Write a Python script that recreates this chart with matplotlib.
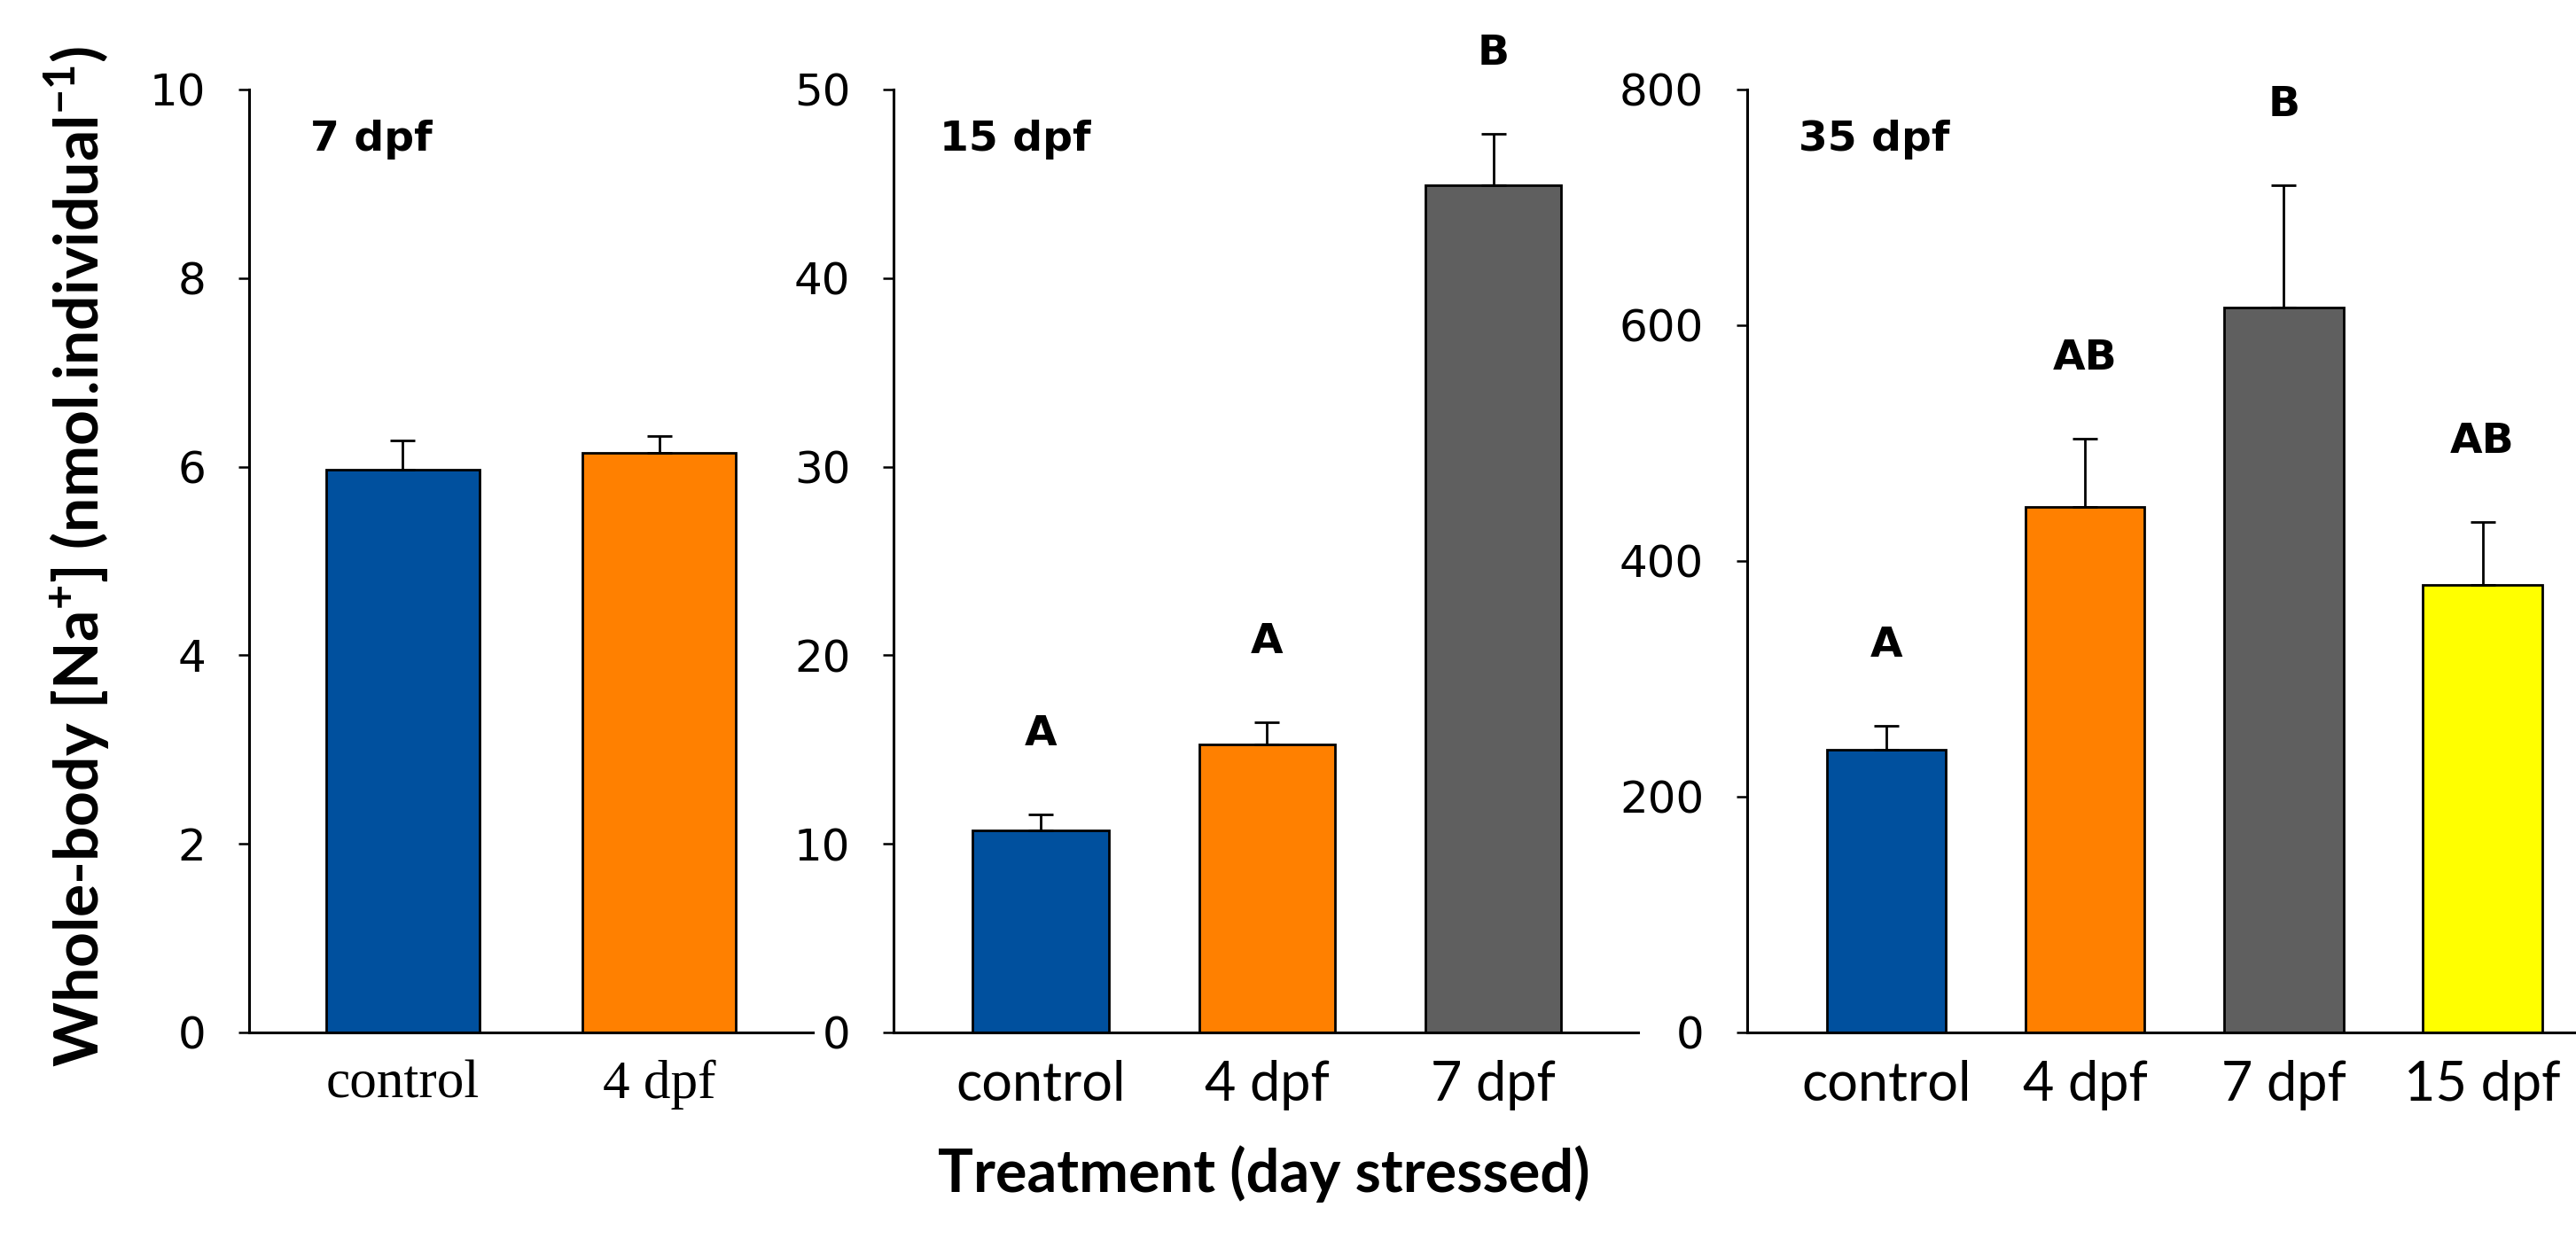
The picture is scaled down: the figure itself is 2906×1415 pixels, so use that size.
import matplotlib
matplotlib.use("Agg")
import matplotlib.pyplot as plt

# data
cats_7 = ["control", "4 dpf"]
mean_7 = [5.97, 6.15]
err_7 = [0.31, 0.17]

cats_15 = ["control", "4 dpf", "7 dpf"]
mean_15 = [10.7, 15.25, 44.9]
err_15 = [0.85, 1.2, 2.75]
letters_15 = ["A", "A", "B"]

cats_35 = ["control", "4 dpf", "7 dpf", "15 dpf"]
mean_35 = [240, 446, 615, 380]
err_35 = [20, 58, 104, 53]
letters_35 = ["A", "AB", "B", "AB"]

colors = ["#00509E", "#FF8000", "#5F5F5F", "#FFFF00"]

plt.rcParams['mathtext.fontset'] = 'custom'
plt.rcParams['mathtext.bf'] = 'Lato:bold'
plt.rcParams['mathtext.rm'] = 'Lato:bold'

fig = plt.figure(figsize=(29.06, 14.15), dpi=100)

panels = [
    # title, cats, means, errs, letters, ymax, step, position, xlim, tick font
    ("7 dpf", cats_7, mean_7, err_7, None, 10, 2,
     [0.0967, 0.1767, 0.2189, 0.752], (-0.6, 1.6), ("Liberation Serif", 44)),
    ("15 dpf", cats_15, mean_15, err_15, letters_15, 50, 10,
     [0.3469, 0.1767, 0.2890, 0.752], (-0.65, 2.64), ("Lato", 44)),
    ("35 dpf", cats_35, mean_35, err_35, letters_35, 800, 200,
     [0.6782, 0.1767, 0.3218, 0.752], (-0.7, 3.47), ("Lato", 44)),
]

for title, cats, means, errs, letters, ymax, step, pos, xlim, xfont in panels:
    ax = fig.add_axes(pos)
    x = list(range(len(cats)))
    ax.bar(x, means, width=0.6, color=colors[:len(cats)], edgecolor="black",
           linewidth=2, zorder=2)
    ax.errorbar(x, means, yerr=[[0] * len(errs), errs], fmt="none",
                ecolor="black", elinewidth=2, capsize=10, capthick=2, zorder=3)
    ax.set_xlim(*xlim)
    ax.set_ylim(0, ymax)
    ax.set_yticks(range(0, ymax + 1, step))
    ax.set_xticks(x)
    ax.set_xticklabels(cats, family=xfont[0], fontsize=xfont[1])
    for lab in ax.get_yticklabels():
        lab.set_family("DejaVu Sans")
        lab.set_fontsize(36)
    ax.tick_params(axis="y", direction="out", length=9, width=1.8, pad=26)
    ax.tick_params(axis="x", length=0, pad=22)
    for s in ["top", "right"]:
        ax.spines[s].set_visible(False)
    for s in ["left", "bottom"]:
        ax.spines[s].set_linewidth(2.2)

    ax.text(0.062 if title != "7 dpf" else 0.108, 0.947, title,
            transform=ax.transAxes, fontsize=34, fontweight="bold",
            family="DejaVu Sans", va="center", ha="left")

    if letters:
        for xi, m, e, lt in zip(x, means, errs, letters):
            ax.text(xi, m + e + 0.085 * ymax, lt, ha="center", va="center",
                    fontsize=34, fontweight="bold", family="DejaVu Sans",
                    clip_on=False)

fig.text(0.030, 0.556,
         r"Whole-body [Na$^{\mathbf{+}}$] (nmol.individual$^{\mathbf{-1}}$)",
         rotation=90, ha="center", va="center", fontsize=50,
         fontweight="bold", family=["Lato", "DejaVu Sans"])
fig.text(0.4907, 0.0636, "Treatment (day stressed)", ha="center",
         va="center", fontsize=48, fontweight="bold",
         family=["Lato", "DejaVu Sans"])

fig.savefig("out.png", dpi=100)
